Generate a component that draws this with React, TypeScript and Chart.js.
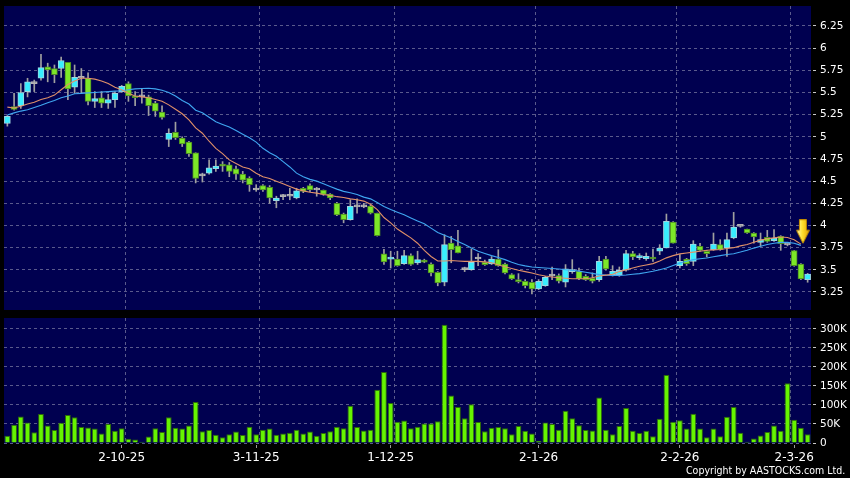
import React, { useEffect, useRef } from 'react';
import { Chart, registerables } from 'chart.js';

Chart.register(...registerables);

// ---------- data ----------
const OPEN = [
  5.15, 5.34, 5.35, 5.51, 5.60, 5.66, 5.79, 5.77, 5.77, 5.84,
  5.56, 5.66, 5.66, 5.40, 5.44, 5.38, 5.42, 5.51, 5.60, 5.455,
  5.45, 5.45, 5.38, 5.28, 4.97, 5.05, 4.985, 4.94, 4.82, 4.56,
  4.59, 4.64, 4.69, 4.685, 4.64, 4.58, 4.535, 4.40, 4.45, 4.43,
  4.28, 4.325, 4.33, 4.31, 4.42, 4.45, 4.40, 4.40, 4.355, 4.25,
  4.13, 4.065, 4.21, 4.21, 4.22, 4.14, 3.68, 3.62, 3.62, 3.57,
  3.66, 3.577, 3.61, 3.566, 3.472, 3.36, 3.802, 3.772, 3.502, 3.502,
  3.622, 3.585, 3.566, 3.622, 3.566, 3.446, 3.39, 3.371, 3.36, 3.285,
  3.322, 3.43, 3.435, 3.36, 3.48, 3.483, 3.427, 3.405, 3.39, 3.622,
  3.446, 3.446, 3.495, 3.682, 3.638, 3.627, 3.641, 3.709, 3.746, 4.039,
  3.547, 3.622, 3.596, 3.765, 3.709, 3.727, 3.784, 3.746, 3.859, 3.99,
  3.96, 3.915, 3.81, 3.866, 3.829, 3.878, 3.78, 3.716, 3.566, 3.39,
];
const HIGH = [
  5.24, 5.49, 5.60, 5.66, 5.64, 5.93, 5.83, 5.81, 5.90, 5.84,
  5.81, 5.77, 5.72, 5.51, 5.51, 5.48, 5.51, 5.58, 5.62, 5.51,
  5.54, 5.47, 5.40, 5.35, 5.09, 5.165, 5.00, 4.95, 4.82, 4.59,
  4.74, 4.74, 4.72, 4.71, 4.67, 4.61, 4.55, 4.46, 4.46, 4.45,
  4.33, 4.35, 4.42, 4.42, 4.43, 4.47, 4.43, 4.40, 4.36, 4.26,
  4.14, 4.29, 4.30, 4.25, 4.23, 4.14, 3.73, 3.71, 3.71, 3.72,
  3.68, 3.71, 3.62, 3.58, 3.48, 3.896, 3.877, 3.945, 3.53, 3.735,
  3.682, 3.61, 3.65, 3.727, 3.575, 3.457, 3.457, 3.39, 3.39, 3.39,
  3.427, 3.53, 3.454, 3.559, 3.615, 3.52, 3.446, 3.465, 3.652, 3.652,
  3.547, 3.532, 3.72, 3.709, 3.682, 3.69, 3.735, 3.784, 4.129, 4.045,
  3.671, 3.63, 3.829, 3.80, 3.72, 3.915, 3.84, 3.915, 4.148, 3.995,
  3.96, 3.92, 3.915, 3.945, 3.953, 3.885, 3.79, 3.72, 3.57, 3.46,
];
const LOW = [
  5.12, 5.30, 5.32, 5.45, 5.51, 5.64, 5.62, 5.61, 5.67, 5.42,
  5.49, 5.49, 5.36, 5.33, 5.33, 5.32, 5.33, 5.50, 5.40, 5.35,
  5.38, 5.24, 5.23, 5.20, 4.89, 4.97, 4.89, 4.78, 4.48, 4.49,
  4.58, 4.61, 4.61, 4.55, 4.52, 4.48, 4.385, 4.385, 4.385, 4.25,
  4.20, 4.29, 4.29, 4.30, 4.37, 4.38, 4.33, 4.34, 4.29, 4.11,
  4.03, 4.06, 4.14, 4.20, 4.13, 3.88, 3.56, 3.52, 3.54, 3.56,
  3.55, 3.56, 3.58, 3.43, 3.32, 3.32, 3.58, 3.69, 3.48, 3.495,
  3.547, 3.55, 3.56, 3.54, 3.454, 3.39, 3.352, 3.296, 3.228, 3.277,
  3.314, 3.39, 3.352, 3.307, 3.46, 3.39, 3.38, 3.352, 3.37, 3.495,
  3.43, 3.427, 3.484, 3.615, 3.615, 3.607, 3.596, 3.671, 3.746, 3.80,
  3.521, 3.55, 3.547, 3.71, 3.645, 3.72, 3.72, 3.652, 3.85, 3.98,
  3.91, 3.80, 3.765, 3.81, 3.82, 3.72, 3.77, 3.54, 3.39, 3.36,
];
const CLOSE = [
  5.23, 5.31, 5.50, 5.62, 5.60, 5.78, 5.755, 5.70, 5.86, 5.54,
  5.67, 5.66, 5.40, 5.43, 5.38, 5.42, 5.49, 5.57, 5.46, 5.44,
  5.45, 5.35, 5.29, 5.22, 5.04, 4.99, 4.92, 4.81, 4.53, 4.56,
  4.65, 4.67, 4.67, 4.61, 4.58, 4.51, 4.46, 4.40, 4.40, 4.31,
  4.31, 4.325, 4.33, 4.39, 4.385, 4.40, 4.40, 4.35, 4.31, 4.12,
  4.065, 4.215, 4.21, 4.21, 4.14, 3.885, 3.59, 3.645, 3.547, 3.66,
  3.56, 3.615, 3.585, 3.465, 3.352, 3.784, 3.727, 3.69, 3.502, 3.585,
  3.622, 3.559, 3.622, 3.547, 3.465, 3.397, 3.367, 3.322, 3.285, 3.371,
  3.416, 3.43, 3.371, 3.51, 3.50, 3.397, 3.39, 3.371, 3.596, 3.51,
  3.483, 3.495, 3.682, 3.645, 3.66, 3.652, 3.622, 3.746, 4.046, 3.802,
  3.596, 3.57, 3.791, 3.72, 3.682, 3.791, 3.727, 3.84, 3.983, 3.99,
  3.915, 3.87, 3.84, 3.821, 3.859, 3.795, 3.78, 3.547, 3.397, 3.453,
];
const MA10 = [
  5.335, 5.325, 5.345, 5.37, 5.39, 5.42, 5.44, 5.47, 5.53, 5.59,
  5.63, 5.66, 5.66, 5.65, 5.63, 5.60, 5.56, 5.53, 5.49, 5.46,
  5.45, 5.44, 5.42, 5.40, 5.36, 5.31, 5.26, 5.19, 5.10, 5.04,
  4.95, 4.87, 4.81, 4.74, 4.70, 4.66, 4.64, 4.59, 4.55, 4.53,
  4.50, 4.47, 4.44, 4.41, 4.39, 4.375, 4.365, 4.35, 4.34, 4.325,
  4.315, 4.30, 4.29, 4.275, 4.24, 4.18, 4.09, 4.03, 3.96, 3.91,
  3.86, 3.80, 3.72, 3.65, 3.60, 3.60, 3.605, 3.60, 3.595, 3.595,
  3.595, 3.59, 3.58, 3.555, 3.535, 3.515, 3.495, 3.48, 3.465, 3.445,
  3.43, 3.42, 3.41, 3.405, 3.40, 3.40, 3.40, 3.41, 3.43, 3.44,
  3.45, 3.48, 3.50, 3.52, 3.54, 3.555, 3.57, 3.60, 3.635, 3.66,
  3.68, 3.69, 3.70, 3.71, 3.72, 3.725, 3.73, 3.74, 3.75, 3.77,
  3.785, 3.81, 3.835, 3.85, 3.86, 3.87, 3.865, 3.84, 3.79, null,
];
const MA20 = [
  5.245, 5.27, 5.29, 5.305, 5.33, 5.355, 5.385, 5.41, 5.44, 5.46,
  5.485, 5.49, 5.495, 5.50, 5.505, 5.51, 5.515, 5.52, 5.53, 5.54,
  5.545, 5.548, 5.54, 5.525, 5.50, 5.46, 5.41, 5.37, 5.30, 5.27,
  5.22, 5.17, 5.14, 5.11, 5.07, 5.03, 4.99, 4.94, 4.87, 4.82,
  4.78, 4.72, 4.66, 4.59, 4.55, 4.52, 4.50, 4.47, 4.44, 4.41,
  4.385, 4.37, 4.35, 4.32, 4.30, 4.26, 4.215, 4.18, 4.15, 4.12,
  4.085, 4.05, 4.02, 3.97, 3.92, 3.89, 3.86, 3.82, 3.785, 3.745,
  3.71, 3.685, 3.66, 3.64, 3.615, 3.585, 3.56, 3.545, 3.532, 3.526,
  3.521, 3.515, 3.51, 3.50, 3.495, 3.485, 3.472, 3.46, 3.446, 3.44,
  3.438, 3.438, 3.442, 3.45, 3.457, 3.47, 3.484, 3.50, 3.52, 3.55,
  3.577, 3.597, 3.615, 3.625, 3.634, 3.647, 3.66, 3.672, 3.682, 3.70,
  3.72, 3.745, 3.765, 3.785, 3.80, 3.81, 3.81, 3.80, 3.776, null,
];
const VOLUME = [
  19000, 48000, 70000, 54000, 28000, 76000, 46000, 34000, 53000, 74000,
  68000, 42000, 41000, 38000, 25000, 50000, 32000, 39000, 11000, 9000,
  3500, 17000, 39000, 29000, 68000, 40000, 38000, 46000, 108000, 31000,
  34000, 22000, 15000, 23000, 30000, 21000, 43000, 23000, 35000, 38000,
  22000, 25000, 27000, 35000, 25000, 30000, 19000, 26000, 31000, 43000,
  39000, 98000, 42000, 33000, 35000, 140000, 187000, 105000, 56000, 59000,
  39000, 43000, 51000, 51000, 57000, 311000, 125000, 95000, 65000, 102000,
  55000, 31000, 40000, 42000, 39000, 23000, 45000, 32000, 25000, 6000,
  54000, 50000, 35000, 85000, 65000, 47000, 34000, 33000, 120000, 35000,
  23000, 45000, 92000, 32000, 26000, 32000, 17500, 64000, 179000, 56000,
  60000, 38000, 77000, 38000, 15000, 38000, 17500, 69000, 95000, 27000,
  3500, 12000, 20000, 29000, 46000, 32000, 157000, 61000, 40000, 23000,
];
const PRICE_TICKS = [3.25, 3.5, 3.75, 4, 4.25, 4.5, 4.75, 5, 5.25, 5.5, 5.75, 6, 6.25];
const VOLUME_TICKS = [0, 50000, 100000, 150000, 200000, 250000, 300000];
const DATE_TICK_INDEX = [17, 37, 57, 79, 100, 117];
const DATE_TICK_TEXT = ['2-10-25', '3-11-25', '1-12-25', '2-1-26', '2-2-26', '2-3-26'];
const MONTH_BREAK_INDEX = [18, 38, 58, 79, 100, 117];
const ARROW_INDEX = [118];
const ARROW_PRICE = [3.93];

// ---------- styles ----------
const PANEL = '#000050';
const GRID = '#5a5a8c';
const UP_FILL = '#38eeff';
const UP_EDGE = '#9fd6e0';
const DOWN_FILL = '#7de828';
const DOWN_EDGE = '#4c8a24';
const FLAT = '#b4b4b4';
const WICK = '#a0a0a0';
const MA10_COLOR = '#e09068';
const MA20_COLOR = '#3fa6f0';
const VOL_FILL = '#66f400';
const VOL_EDGE = '#2e6a0a';
const FONT = '"DejaVu Sans", sans-serif';

const CATEGORIES = VOLUME.map((_, i) => String(i));
const breakSet = new Set(MONTH_BREAK_INDEX);
const dateMap = new Map(DATE_TICK_INDEX.map((ix, k) => [ix, DATE_TICK_TEXT[k]]));

const panelBg = {
  id: 'panelBg',
  beforeDraw(chart: any) {
    const { ctx, chartArea: a } = chart;
    ctx.save();
    ctx.fillStyle = PANEL;
    ctx.fillRect(a.left, a.top, a.right - a.left, a.bottom - a.top);
    ctx.restore();
  },
};

function makeArrow() {
  const c = document.createElement('canvas');
  c.width = 18;
  c.height = 25;
  const g = c.getContext('2d')!;
  const cx = 11;
  g.beginPath();
  g.moveTo(cx - 3.5, 0.5);
  g.lineTo(cx + 3.5, 0.5);
  g.lineTo(cx + 3.5, 11);
  g.lineTo(cx + 6.5, 11);
  g.lineTo(cx, 24);
  g.lineTo(cx - 6.5, 11);
  g.lineTo(cx - 3.5, 11);
  g.closePath();
  const grad = g.createLinearGradient(cx - 6, 0, cx + 6, 0);
  grad.addColorStop(0, '#fff8b0');
  grad.addColorStop(0.45, '#ffe030');
  grad.addColorStop(1, '#e8a800');
  g.fillStyle = grad;
  g.fill();
  g.strokeStyle = '#c08a00';
  g.lineWidth = 1;
  g.stroke();
  return c;
}

const gridXScale = () => ({
  type: 'category',
  offset: true,
  border: { display: false, dash: [3, 3] },
  grid: {
    offset: true,
    drawTicks: false,
    color: (ctx: any) => (breakSet.has(ctx.index) ? GRID : 'transparent'),
  },
  ticks: { display: false, autoSkip: false },
  afterFit: (s: any) => {
    s.height = 0;
    s.paddingLeft = 0;
    s.paddingRight = 0;
  },
});

const rightYScale = (ticks: number[], min: number, max: number, fmt: (v: number) => string) => ({
  type: 'linear',
  position: 'right',
  min,
  max,
  border: { display: false, dash: [3, 3] },
  grid: {
    color: GRID,
    tickLength: 5,
    tickColor: '#c8c8c8',
    tickBorderDash: [0, 2, 3, 20],
  },
  ticks: {
    color: '#ffffff',
    font: { family: FONT, size: 10.5 },
    padding: 4,
    callback: (v: any) => fmt(Number(v)),
  },
  afterBuildTicks: (s: any) => {
    s.ticks = ticks.map((v) => ({ value: v }));
  },
  afterFit: (s: any) => {
    s.width = 39;
    s.paddingTop = 0;
    s.paddingBottom = 0;
  },
});

export default function App() {
  const priceRef = useRef<HTMLCanvasElement>(null);
  const volRef = useRef<HTMLCanvasElement>(null);

  useEffect(() => {
    const charts: Chart[] = [];
    const kind = OPEN.map((o, i) => (CLOSE[i] > o ? 1 : CLOSE[i] < o ? -1 : 0));
    const bodies = OPEN.map((o, i) => [Math.min(o, CLOSE[i]), Math.max(o, CLOSE[i])]);
    const wicks = LOW.map((l, i) => [l, HIGH[i]]);
    const bodyFill = kind.map((k) => (k > 0 ? UP_FILL : k < 0 ? DOWN_FILL : FLAT));
    const bodyEdge = kind.map((k) => (k > 0 ? UP_EDGE : k < 0 ? DOWN_EDGE : FLAT));
    const arrowData = CATEGORIES.map((_, i) => {
      const k = ARROW_INDEX.indexOf(i);
      return k >= 0 ? ARROW_PRICE[k] : null;
    });
    const arrowImg = makeArrow();

    if (priceRef.current) {
      charts.push(
        new Chart(priceRef.current, {
          type: 'bar',
          data: {
            labels: CATEGORIES,
            datasets: [
              {
                type: 'line',
                data: arrowData as any,
                showLine: false,
                pointStyle: arrowImg as any,
                pointRadius: 6,
                order: 0,
              } as any,
              {
                type: 'line',
                data: MA10 as any,
                borderColor: MA10_COLOR,
                borderWidth: 1.1,
                pointRadius: 0,
                tension: 0,
                order: 1,
              } as any,
              {
                type: 'line',
                data: MA20 as any,
                borderColor: MA20_COLOR,
                borderWidth: 1.1,
                pointRadius: 0,
                tension: 0,
                order: 1,
              } as any,
              {
                type: 'bar',
                data: bodies as any,
                backgroundColor: bodyFill,
                borderColor: bodyEdge,
                borderWidth: 1,
                borderSkipped: false,
                barThickness: 6,
                minBarLength: 2,
                grouped: false,
                order: 2,
              } as any,
              {
                type: 'bar',
                data: wicks as any,
                backgroundColor: WICK,
                borderWidth: 0,
                barThickness: 1,
                grouped: false,
                order: 3,
              } as any,
            ],
          },
          options: {
            responsive: false,
            animation: false,
            events: [],
            layout: { autoPadding: false, padding: { left: 4, top: 6, right: 0, bottom: 0 } },
            plugins: { legend: { display: false }, tooltip: { enabled: false } },
            scales: {
              x: gridXScale() as any,
              y: rightYScale(PRICE_TICKS, 3.047, 6.475, (v) => String(Number(v.toFixed(2)))) as any,
            },
          } as any,
          plugins: [panelBg],
        })
      );
    }

    if (volRef.current) {
      charts.push(
        new Chart(volRef.current, {
          type: 'bar',
          data: {
            labels: CATEGORIES,
            datasets: [
              {
                data: VOLUME,
                backgroundColor: VOL_FILL,
                borderColor: VOL_EDGE,
                borderWidth: 1,
                borderSkipped: 'bottom',
                barPercentage: 0.86,
                categoryPercentage: 1,
                xAxisID: 'x',
              } as any,
            ],
          },
          options: {
            responsive: false,
            animation: false,
            events: [],
            layout: { autoPadding: false, padding: { left: 4, top: 8, right: 0, bottom: 0 } },
            plugins: { legend: { display: false }, tooltip: { enabled: false } },
            scales: {
              x: { ...(gridXScale() as any), weight: 0 },
              x2: {
                type: 'category',
                position: 'bottom',
                weight: 1,
                offset: true,
                border: { display: false },
                grid: {
                  offset: false,
                  drawOnChartArea: false,
                  tickLength: 5,
                  tickColor: (ctx: any) => (dateMap.has(ctx.index) ? '#9a9a9a' : 'transparent'),
                  tickBorderDash: [0, 2, 3, 20],
                },
                ticks: {
                  autoSkip: false,
                  maxRotation: 0,
                  minRotation: 0,
                  padding: 3,
                  color: '#ffffff',
                  font: { family: FONT, size: 12 },
                  callback: (_v: any, i: number) => dateMap.get(i) ?? '',
                },
                afterFit: (s: any) => {
                  s.height = 35;
                  s.paddingLeft = 0;
                  s.paddingRight = 0;
                },
              } as any,
              y: rightYScale(VOLUME_TICKS, 0, 328900, (v) => (v === 0 ? '0' : `${Math.round(v / 1000)}K`)) as any,
            },
          } as any,
          plugins: [panelBg],
        })
      );
    }

    return () => charts.forEach((c) => c.destroy());
  }, []);

  return (
    <div
      style={{
        position: 'fixed',
        left: 0,
        top: 0,
        width: 850,
        height: 478,
        background: '#000',
        overflow: 'hidden',
      }}
    >
      <canvas ref={priceRef} width={850} height={310} style={{ position: 'absolute', left: 0, top: 0 }} />
      <canvas ref={volRef} width={850} height={168} style={{ position: 'absolute', left: 0, top: 310 }} />
      <div
        style={{
          position: 'absolute',
          left: 686,
          top: 465,
          font: `11px ${FONT}`,
          lineHeight: '12px',
          color: '#ffffff',
          whiteSpace: 'nowrap',
          transform: 'scaleX(0.86)',
          transformOrigin: '0 0',
        }}
      >
        Copyright by AASTOCKS.com Ltd.
      </div>
    </div>
  );
}
